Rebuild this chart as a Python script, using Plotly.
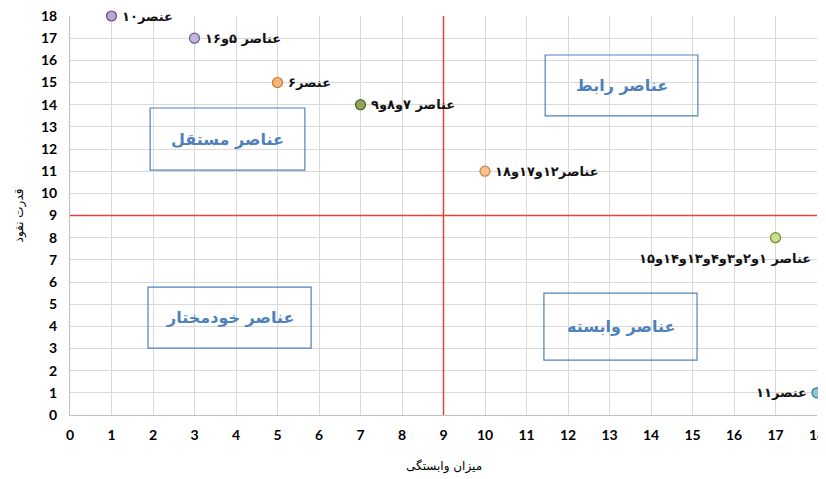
import plotly.graph_objects as go

# data
x_vals = [1, 3, 5, 7, 10, 17, 18]
y_vals = [18, 17, 15, 14, 11, 8, 1]
point_labels = ["عنصر۱۰", "عناصر ۵و۱۶", "عنصر۶", "عناصر ۷و۸و۹", "عناصر۱۲و۱۷و۱۸",
                "عناصر ۱و۲و۳و۴و۱۳و۱۴و۱۵", "عنصر۱۱"]
marker_colors = ["#b7a6d3", "#c5b6e0", "#f9b57c", "#8ea55a", "#fac08f", "#c9de8f", "#8ec5d6"]
marker_lines = ["#5f4b80", "#6f5d8f", "#c8772f", "#4e6128", "#c88440", "#6d8a2f", "#31758a"]
label_pos = ["right", "right", "right", "right", "right", "below", "left"]

quad_names = ["عناصر مستقل", "عناصر رابط", "عناصر خودمختار", "عناصر وابسته"]
quad_x0 = [1.93, 11.45, 1.88, 11.42]
quad_x1 = [5.66, 15.13, 5.81, 15.11]
quad_y0 = [11.05, 13.49, 3.02, 2.48]
quad_y1 = [13.85, 16.24, 5.77, 5.50]

split_x = 9
split_y = 9
ticks = list(range(0, 19))

LABEL_FONT = dict(family="DejaVu Sans", size=13, color="#111", weight="bold")

fig = go.Figure()
fig.add_trace(go.Scatter(
    x=x_vals, y=y_vals, mode="markers",
    marker=dict(size=10, color=marker_colors, line=dict(color=marker_lines, width=1.2)),
    showlegend=False, hoverinfo="skip", cliponaxis=False))

annotations = []
for xv, yv, t, p in zip(x_vals, y_vals, point_labels, label_pos):
    if p == "right":
        annotations.append(dict(x=xv, y=yv, text=t, showarrow=False, xanchor="left",
                                yanchor="middle", xshift=8, font=LABEL_FONT))
    elif p == "left":
        annotations.append(dict(x=xv, y=yv, text=t, showarrow=False, xanchor="right",
                                yanchor="middle", xshift=-8, font=LABEL_FONT))
    else:
        annotations.append(dict(x=xv, y=yv, text=t, showarrow=False, xanchor="right",
                                yanchor="top", xshift=37, yshift=-11, font=LABEL_FONT))

shapes = []
for name, a0, a1, b0, b1 in zip(quad_names, quad_x0, quad_x1, quad_y0, quad_y1):
    shapes.append(dict(type="rect", x0=a0, x1=a1, y0=b0, y1=b1, xref="x", yref="y",
                       line=dict(color="#4f81bd", width=1.2), fillcolor="rgba(0,0,0,0)", layer="above"))
    annotations.append(dict(x=(a0 + a1) / 2, y=(b0 + b1) / 2, text="<b>" + name + "</b>", showarrow=False,
                            font=dict(family="DejaVu Sans", size=16, color="#4f81bd")))

shapes.append(dict(type="line", x0=split_x, x1=split_x, y0=0, y1=18, xref="x", yref="y",
                   line=dict(color="#e0443e", width=1.5)))
shapes.append(dict(type="line", x0=0, x1=18, y0=split_y, y1=split_y, xref="x", yref="y",
                   line=dict(color="#e0443e", width=1.5)))

# axis titles
annotations.append(dict(xref="paper", yref="paper", x=0.5, y=-0.128, yanchor="middle",
                        text="میزان وابستگی", showarrow=False,
                        font=dict(family="DejaVu Sans", size=12, color="#000")))
annotations.append(dict(xref="paper", yref="paper", x=-0.067, y=0.5, xanchor="center",
                        text="قدرت نفوذ", textangle=-90, showarrow=False,
                        font=dict(family="DejaVu Sans", size=12, color="#000")))

fig.update_layout(
    width=818, height=471,
    margin=dict(l=62, r=9, t=8, b=64),
    paper_bgcolor="white", plot_bgcolor="white",
    shapes=shapes, annotations=annotations,
    xaxis=dict(range=[0, 18], tickvals=ticks, showgrid=True, gridcolor="#d9d9d9", gridwidth=1,
               zeroline=False, showline=True, linecolor="#bfbfbf", ticks="", automargin=False,
               ticklabelstandoff=7, ticklabeloverflow="allow",
               tickfont=dict(family="Lato", size=14, color="#000", weight="bold")),
    yaxis=dict(range=[0, 18], tickvals=ticks, showgrid=True, gridcolor="#d9d9d9", gridwidth=1,
               zeroline=False, showline=True, linecolor="#bfbfbf", ticks="", automargin=False,
               ticklabelstandoff=9, ticklabeloverflow="allow",
               tickfont=dict(family="Lato", size=14, color="#000", weight="bold")),
)

fig.write_html("out.html")
